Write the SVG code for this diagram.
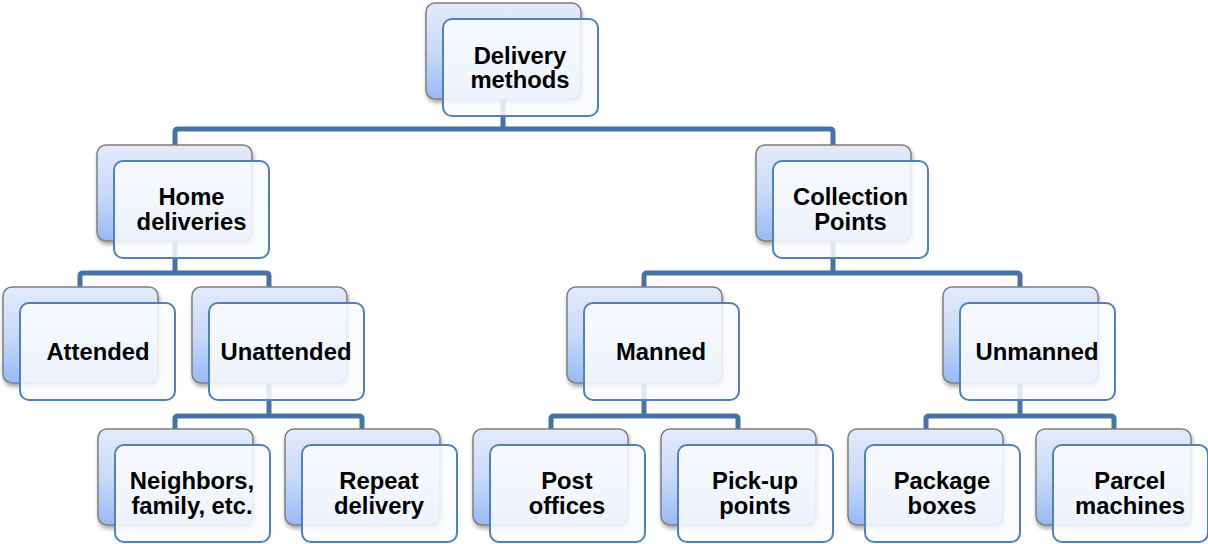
<svg xmlns="http://www.w3.org/2000/svg" width="1208" height="544" viewBox="0 0 1208 544">
<defs>
  <linearGradient id="bg" x1="0" y1="0" x2="0" y2="1">
    <stop offset="0" stop-color="#E2EBFB"/>
    <stop offset="0.5" stop-color="#CADAF9"/>
    <stop offset="1" stop-color="#97B9F6"/>
  </linearGradient>
  <filter id="sh" x="-10%" y="-10%" width="130%" height="130%">
    <feGaussianBlur in="SourceAlpha" stdDeviation="2"/>
    <feOffset dx="1" dy="3" result="b"/>
    <feComponentTransfer><feFuncA type="linear" slope="0.35"/></feComponentTransfer>
    <feMerge><feMergeNode/><feMergeNode in="SourceGraphic"/></feMerge>
  </filter>
  <g id="card">
    <rect class="back" x="0" y="0" width="155" height="96" rx="9"/>
    <rect class="front" x="17" y="16" width="155" height="97" rx="9"/>
  </g>
</defs>
<style>
  .back { fill: url(#bg); stroke: #7F7F7F; stroke-width: 1.5; filter: url(#sh); }
  .front { fill: #FAFCFF; fill-opacity: 0.86; stroke: #4F81BD; stroke-width: 2; }
  .t { font-family: "Liberation Sans", Arial, sans-serif; font-weight: bold; font-size: 23.8px; fill: #000; text-anchor: middle; }
  .c { fill: none; stroke: #4672A6; stroke-width: 5; stroke-linejoin: round; }
</style>
<g id="connectors">
  <path class="c" d="M503,99 V129 M175,145 V132 Q175,129 178,129 H830 Q833,129 833,132 V145"/>
  <path class="c" d="M175,242 V273 M80,287 V276 Q80,273 83,273 H266 Q269,273 269,276 V287"/>
  <path class="c" d="M833,242 V273 M644,287 V276 Q644,273 647,273 H1017 Q1020,273 1020,276 V287"/>
  <path class="c" d="M269,384 V416 M175,429 V419 Q175,416 178,416 H359 Q362,416 362,419 V429"/>
  <path class="c" d="M644,384 V416 M551,429 V419 Q551,416 554,416 H735 Q738,416 738,419 V429"/>
  <path class="c" d="M1020,384 V416 M926,429 V419 Q926,416 929,416 H1111 Q1114,416 1114,419 V429"/>
</g>
<g id="n-root"><use href="#card" x="426" y="3"/><text class="t" x="520" y="63.5">Delivery</text><text class="t" x="520" y="88">methods</text></g>
<g id="n-home"><use href="#card" x="97" y="145"/><text class="t" x="191.5" y="205">Home</text><text class="t" x="191.5" y="229.5">deliveries</text></g>
<g id="n-collection"><use href="#card" x="756" y="145"/><text class="t" x="850.5" y="205">Collection</text><text class="t" x="850.5" y="229.5">Points</text></g>
<g id="n-attended"><use href="#card" x="3" y="287"/><text class="t" x="98" y="360">Attended</text></g>
<g id="n-unattended"><use href="#card" x="192" y="287"/><text class="t" x="286" y="360">Unattended</text></g>
<g id="n-manned"><use href="#card" x="567" y="287"/><text class="t" x="661" y="360">Manned</text></g>
<g id="n-unmanned"><use href="#card" x="943" y="287"/><text class="t" x="1037" y="360">Unmanned</text></g>
<g id="n-neighbors"><use href="#card" x="98" y="429"/><text class="t" x="192" y="489">Neighbors,</text><text class="t" x="192" y="513.5">family, etc.</text></g>
<g id="n-repeat"><use href="#card" x="285" y="429"/><text class="t" x="379" y="489">Repeat</text><text class="t" x="379" y="513.5">delivery</text></g>
<g id="n-post"><use href="#card" x="473" y="429"/><text class="t" x="567" y="489">Post</text><text class="t" x="567" y="513.5">offices</text></g>
<g id="n-pickup"><use href="#card" x="661" y="429"/><text class="t" x="755" y="489">Pick-up</text><text class="t" x="755" y="513.5">points</text></g>
<g id="n-package"><use href="#card" x="848" y="429"/><text class="t" x="942" y="489">Package</text><text class="t" x="942" y="513.5">boxes</text></g>
<g id="n-parcel"><use href="#card" x="1036" y="429"/><text class="t" x="1130" y="489">Parcel</text><text class="t" x="1130" y="513.5">machines</text></g>
</svg>
